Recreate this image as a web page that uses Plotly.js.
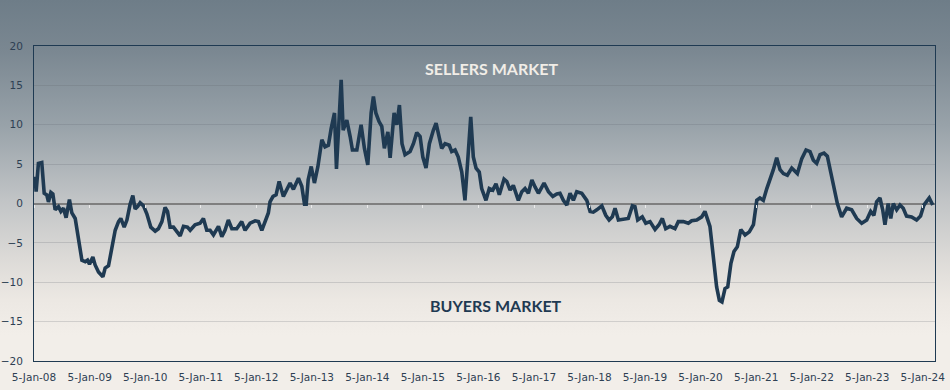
<!DOCTYPE html>
<html>
<head>
<meta charset="utf-8">
<script src="https://cdn.plot.ly/plotly-3.0.1.min.js"></script>
<style>
  html, body { margin: 0; padding: 0; }
  body {
    width: 950px; height: 390px; overflow: hidden;
    background: linear-gradient(to bottom,
      #6e7d88 0px, #7a8791 50px, #98a2a9 125px, #c1c4c6 200px,
      #dcdad7 258px, #ece8e3 300px, #f2eee9 335px, #f2eee9 390px);
  }
  #chart { width: 950px; height: 390px; }
</style>
</head>
<body>
<div id="chart"></div>
<script>
// Time as decimal years, index values
const decYears = [
  2008.032,2008.050,2008.091,2008.153,2008.194,2008.243,2008.271,2008.315,2008.351,2008.392,
  2008.451,2008.495,2008.541,2008.590,2008.649,2008.693,2008.752,2008.811,2008.873,2008.932,
  2008.973,2009.009,2009.071,2009.112,2009.171,2009.251,2009.292,2009.351,2009.413,2009.472,
  2009.532,2009.575,2009.634,2009.683,2009.742,2009.791,2009.832,2009.874,2009.922,2009.982,
  2010.043,2010.115,2010.192,2010.252,2010.313,2010.372,2010.414,2010.462,2010.522,2010.583,
  2010.642,2010.702,2010.774,2010.822,2010.912,2011.002,2011.062,2011.123,2011.182,2011.242,
  2011.332,2011.393,2011.452,2011.512,2011.573,2011.663,2011.753,2011.812,2011.902,2011.992,
  2012.052,2012.113,2012.172,2012.232,2012.262,2012.316,2012.370,2012.424,2012.502,2012.592,
  2012.622,2012.682,2012.772,2012.833,2012.880,2012.910,2012.946,2013.000,2013.060,2013.121,
  2013.193,2013.252,2013.312,2013.360,2013.420,2013.456,2013.504,2013.540,2013.576,2013.643,
  2013.702,2013.744,2013.823,2013.900,2013.960,2014.021,2014.080,2014.122,2014.165,2014.224,
  2014.273,2014.320,2014.381,2014.422,2014.494,2014.543,2014.590,2014.638,2014.692,2014.782,
  2014.842,2014.903,2014.962,2015.011,2015.070,2015.130,2015.202,2015.250,2015.310,2015.353,
  2015.412,2015.490,2015.533,2015.592,2015.652,2015.713,2015.772,2015.832,2015.875,2015.922,
  2015.970,2016.030,2016.073,2016.150,2016.210,2016.271,2016.330,2016.390,2016.475,2016.523,
  2016.583,2016.642,2016.732,2016.793,2016.852,2016.912,2016.973,2017.032,2017.092,2017.194,
  2017.272,2017.351,2017.423,2017.482,2017.542,2017.603,2017.662,2017.722,2017.783,2017.873,
  2017.963,2018.023,2018.082,2018.143,2018.233,2018.305,2018.365,2018.424,2018.473,2018.532,
  2018.622,2018.712,2018.784,2018.832,2018.881,2018.964,2019.025,2019.102,2019.192,2019.264,
  2019.324,2019.385,2019.462,2019.552,2019.612,2019.702,2019.792,2019.853,2019.943,2020.033,
  2020.092,2020.141,2020.182,2020.224,2020.260,2020.303,2020.350,2020.398,2020.452,2020.501,
  2020.560,2020.614,2020.674,2020.735,2020.812,2020.890,2020.962,2021.023,2021.082,2021.142,
  2021.203,2021.262,2021.322,2021.383,2021.442,2021.502,2021.574,2021.653,2021.754,2021.833,
  2021.910,2021.982,2022.042,2022.103,2022.162,2022.234,2022.294,2022.355,2022.414,2022.474,
  2022.553,2022.643,2022.733,2022.823,2022.913,2023.003,2023.075,2023.134,2023.183,2023.242,
  2023.291,2023.332,2023.391,2023.436,2023.483,2023.544,2023.603,2023.662,2023.723,2023.813,
  2023.903,2023.975,2024.034,2024.129,2024.192
];
const values = [
  3.4,1.5,5.1,5.2,1.3,1.1,0.2,1.4,1.2,-0.8,
  -0.4,-1.0,-0.6,-1.8,0.5,-1.2,-1.9,-4.6,-7.2,-7.4,
  -7.2,-7.7,-6.8,-7.8,-8.7,-9.3,-8.2,-7.9,-5.9,-3.4,
  -2.3,-1.9,-3.0,-2.1,-0.1,1.0,-0.7,-0.4,0.1,-0.3,
  -1.3,-3.0,-3.5,-3.2,-2.3,-0.5,-1.0,-3.0,-3.0,-3.6,
  -4.1,-2.9,-3.0,-3.4,-2.7,-2.5,-1.9,-3.4,-3.4,-4.0,
  -2.9,-4.2,-3.4,-2.1,-3.2,-3.2,-2.3,-3.4,-2.5,-2.2,
  -2.3,-3.4,-2.3,-1.2,0.2,0.9,1.1,2.8,0.9,2.3,
  2.6,1.8,3.2,2.2,-0.1,-0.1,3.0,4.7,2.6,4.7,
  8.1,7.2,7.4,9.5,11.5,4.4,11.5,15.7,9.3,10.6,
  8.5,6.8,6.8,10.0,7.0,4.9,11.5,13.6,11.5,10.4,
  9.8,7.0,9.1,5.8,11.5,10.0,12.5,7.6,6.2,6.6,
  7.6,9.0,8.5,5.9,4.5,7.6,9.3,10.2,8.3,7.0,
  7.6,7.4,6.6,6.8,5.9,4.0,0.4,7.2,11.0,5.9,
  4.5,4.0,1.9,0.4,1.9,1.7,2.5,1.1,3.1,2.8,
  1.7,2.3,0.4,1.5,1.9,1.3,3.0,2.1,1.3,2.6,
  1.5,0.9,1.2,1.3,0.4,-0.2,1.3,0.4,1.5,1.3,
  0.4,-1.0,-1.1,-0.8,-0.3,-1.5,-2.1,-1.7,-0.6,-2.1,
  -2.0,-1.9,-0.3,-0.4,-2.1,-1.7,-2.5,-2.3,-3.3,-2.7,
  -1.9,-3.2,-2.9,-3.2,-2.3,-2.3,-2.5,-2.2,-2.1,-1.7,
  -1.0,-1.9,-2.9,-5.5,-8.5,-10.6,-12.3,-12.5,-10.8,-10.6,
  -7.6,-6.1,-5.5,-3.3,-4.0,-3.6,-2.7,0.4,0.7,0.4,
  1.9,3.0,4.3,5.8,4.3,3.8,3.6,4.5,3.8,5.7,
  6.8,6.6,5.5,5.1,6.2,6.4,6.0,4.0,2.1,0.0,
  -1.7,-0.6,-0.8,-1.9,-2.5,-2.1,-1.0,-1.5,0.2,0.7,
  -0.8,-2.7,0.0,-1.9,0.0,-0.8,-0.2,-0.6,-1.6,-1.7,
  -2.1,-1.6,-0.2,0.7,-0.2
];
const tickDates = ['2008-01-05','2009-01-05','2010-01-05','2011-01-05','2012-01-05','2013-01-05',
  '2014-01-05','2015-01-05','2016-01-05','2017-01-05','2018-01-05','2019-01-05','2020-01-05',
  '2021-01-05','2022-01-05','2023-01-05','2024-01-05'];
const tickLabels = ['5-Jan-08','5-Jan-09','5-Jan-10','5-Jan-11','5-Jan-12','5-Jan-13','5-Jan-14',
  '5-Jan-15','5-Jan-16','5-Jan-17','5-Jan-18','5-Jan-19','5-Jan-20','5-Jan-21','5-Jan-22',
  '5-Jan-23','5-Jan-24'];
const yTicks = [-20,-15,-10,-5,0,5,10,15,20];
const labelTop = 'SELLERS MARKET';
const labelBottom = 'BUYERS MARKET';

function decToDate(d) {
  const y = Math.floor(d);
  const s = Date.UTC(y, 0, 1), e = Date.UTC(y + 1, 0, 1);
  return new Date(s + (d - y) * (e - s)).toISOString().slice(0, 10);
}
const dates = decYears.map(decToDate);

const navy = '#1f3a52';
const xRange = ['2008-01-05', '2024-03-26'];
const trace = {
  x: dates, y: values, type: 'scatter', mode: 'lines',
  line: { color: navy, width: 3.6 },
  hoverinfo: 'skip'
};
// empty trace so the zero-crossing tick axis is drawn
const tickTrace = { x: [], y: [], xaxis: 'x2', yaxis: 'y', type: 'scatter', mode: 'lines', hoverinfo: 'skip' };
const tickFont = { family: 'DejaVu Sans, Verdana, sans-serif', size: 10.5, color: '#2e4053' };
const layout = {
  width: 950, height: 390,
  margin: { l: 34, r: 15, t: 46, b: 29, pad: 0 },
  paper_bgcolor: 'rgba(0,0,0,0)',
  plot_bgcolor: 'rgba(0,0,0,0)',
  showlegend: false,
  xaxis: {
    type: 'date', range: xRange,
    tickvals: tickDates, ticktext: tickLabels,
    showgrid: false, zeroline: false,
    showline: true, linecolor: navy, linewidth: 1, mirror: true,
    ticks: '', tickfont: tickFont, ticklabelstandoff: 6
  },
  xaxis2: {
    type: 'date', range: xRange, overlaying: 'x', anchor: 'free', position: 0.5, side: 'bottom',
    tickvals: tickDates, showticklabels: false,
    showgrid: false, zeroline: false, showline: false,
    ticks: 'outside', ticklen: 3, tickwidth: 1, tickcolor: '#ebebeb'
  },
  yaxis: {
    range: [-20, 20], tickvals: yTicks,
    showgrid: true, gridcolor: 'rgba(95,100,108,0.22)', gridwidth: 1,
    zeroline: true, zerolinecolor: '#7f7f7f', zerolinewidth: 2,
    showline: true, linecolor: navy, linewidth: 1, mirror: true,
    ticks: '', tickfont: tickFont, ticklabelstandoff: 8
  },
  annotations: [
    { text: '<b>' + labelTop + '</b>', xref: 'paper', yref: 'paper', x: 0.508, y: 0.930,
      showarrow: false, xanchor: 'center', yanchor: 'middle',
      font: { family: 'Lato, Open Sans, sans-serif', size: 16, color: '#f1ede7' } },
    { text: '<b>' + labelBottom + '</b>', xref: 'paper', yref: 'paper', x: 0.513, y: 0.176,
      showarrow: false, xanchor: 'center', yanchor: 'middle',
      font: { family: 'Lato, Open Sans, sans-serif', size: 16, color: navy } }
  ]
};
Plotly.newPlot('chart', [tickTrace, trace], layout, { staticPlot: true, displayModeBar: false });
</script>
</body>
</html>
